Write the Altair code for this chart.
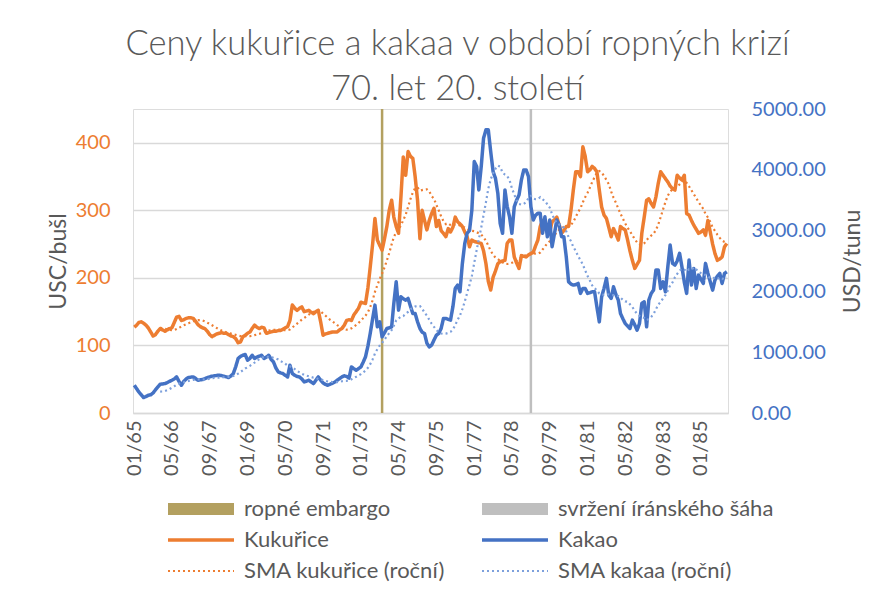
import altair as alt
import pandas as pd

# ---------------- data ----------------
months = pd.date_range("1965-01-01", periods=252, freq="MS")

corn = [
    127, 130, 134, 135, 133, 130, 126, 120, 114, 116, 121, 125,
    123, 121, 123, 125, 126, 134, 142, 143, 137, 138, 140, 141,
    141, 140, 136, 131, 128, 126, 125, 121, 116, 113, 115, 117,
    118, 119, 118, 118, 116, 114, 113, 110, 104, 105, 113, 115,
    118, 120, 125, 130, 127, 125, 127, 126, 118, 119, 120, 121,
    121, 122, 122, 124, 126, 128, 137, 160, 155, 152, 155, 157,
    150, 151, 152, 149, 147, 150, 152, 135, 115, 117, 118, 119,
    120, 120, 120, 123, 125, 130, 137, 138, 137, 145, 150, 155,
    164, 163, 162, 185, 216, 250, 288, 256, 248, 241, 258, 276,
    300, 315, 290, 276, 266, 320, 379, 352, 387, 380, 377, 350,
    315, 258, 300, 285, 271, 285, 295, 303, 276, 285, 270, 266,
    261, 273, 268, 275, 290, 283, 280, 276, 268, 261, 246, 256,
    254, 253, 252, 251, 240, 221, 195, 182, 201, 210, 221, 224,
    225, 226, 251, 256, 256, 231, 222, 214, 233, 232, 231, 234,
    236, 238, 247, 256, 276, 285, 276, 272, 268, 283, 286, 290,
    278, 266, 270, 276, 276, 300, 330, 357, 357, 350, 394, 380,
    357, 360, 365, 362, 357, 330, 305, 293, 288, 275, 261, 273,
    265, 256, 276, 273, 271, 256, 240, 226, 214, 220, 226, 266,
    290, 315, 317, 310, 305, 320, 340, 357, 352, 347, 342, 336,
    332, 330, 352, 348, 345, 352, 295, 293, 285, 278, 272, 266,
    268, 271, 263, 285, 268, 250, 236, 226, 228, 231, 246, 251,
]

cocoa = [
    457, 400, 346, 300, 254, 270, 292, 300, 330, 380, 428, 473,
    478, 484, 500, 520, 539, 560, 593, 520, 456, 520, 560, 583,
    590, 593, 570, 539, 545, 550, 565, 583, 595, 605, 612, 618,
    621, 615, 605, 595, 583, 610, 649, 760, 896, 930, 950, 962,
    868, 900, 950, 896, 920, 935, 950, 896, 920, 950, 880, 840,
    740, 676, 660, 649, 620, 593, 786, 649, 620, 600, 593, 560,
    511, 525, 539, 510, 484, 540, 593, 540, 495, 470, 456, 473,
    490, 510, 539, 566, 593, 612, 600, 575, 758, 730, 703, 730,
    758, 840, 923, 1100, 1308, 1550, 1774, 1417, 1500, 1252, 1320, 1390,
    1400, 1417, 1800, 2158, 1692, 1911, 1880, 1856, 1884, 1760, 1637, 1637,
    1500, 1390, 1330, 1308, 1150, 1087, 1115, 1200, 1280, 1308, 1390, 1555,
    1555, 1540, 1527, 1750, 2049, 2104, 1994, 2461, 2790, 2955, 3000, 3334,
    4135, 4053, 3669, 4053, 4520, 4657, 4657, 4300, 3970, 3862, 3614, 3120,
    2955, 3669, 3400, 3229, 2955, 3394, 3500, 3586, 3834, 3998, 3998, 3888,
    3394, 3174, 3250, 3285, 3285, 2955, 3229, 2900, 3174, 2735, 2950, 3174,
    3092, 2900, 2900, 2570, 2158, 2120, 2104, 2110, 2131, 1967, 2049, 2049,
    1967, 1980, 1994, 1994, 1746, 1499, 1911, 2050, 2214, 1939, 1884, 2076,
    1950, 1856, 1637, 1550, 1472, 1430, 1390, 1527, 1450, 1362, 1472, 1802,
    1829, 1417, 1856, 1967, 2021, 2351, 2351, 2049, 2158, 1994, 2400, 2763,
    2461, 2433, 2500, 2625, 2406, 2150, 1967, 2515, 2104, 2378, 2049, 2268,
    2200, 2131, 2461, 2300, 2158, 2021, 2186, 2250, 2296, 2131, 2296, 2323,
]

event_names = ["ropné embargo", "svržení íránského šáha"]
event_dates = ["1973-10-01", "1979-01-01"]

# legend order (filled column by column: left column first, then right column)
series_names = ["ropné embargo", "Kukuřice", "SMA kukuřice (roční)",
                "svržení íránského šáha", "Kakao", "SMA kakaa (roční)"]
series_colors = ["#B3A060", "#ED7D31", "#ED7D31", "#BFBFBF", "#4472C4", "#7DA0DC"]
series_widths = [12, 3.5, 2.2, 12, 3.5, 2.2]
series_dashes = [[1, 0], [1, 0], [2, 3], [1, 0], [1, 0], [2, 3]]

tick_dates = pd.date_range("1965-01-01", periods=16, freq="16MS")

# ---------------- frames ----------------
df_corn = pd.DataFrame({"date": months, "value": corn})
df_cocoa = pd.DataFrame({"date": months, "value": cocoa})
df_events = pd.DataFrame({"date": pd.to_datetime(event_dates), "series": event_names})

TXT = "#595959"
FONT = "Lato"

legend = alt.Legend(
    title=None, orient="none", legendX=29, legendY=388, columns=2,
    symbolType="stroke", symbolSize=4356, clipHeight=24, labelFontSize=22,
    labelFont=FONT, labelColor=TXT, labelOffset=4, rowPadding=7,
    columnPadding=30, padding=0, labelLimit=400,
)

color_enc = alt.Color("series:N", scale=alt.Scale(domain=series_names, range=series_colors), legend=legend)
dash_enc = alt.StrokeDash("series:N", scale=alt.Scale(domain=series_names, range=series_dashes), legend=legend)
width_enc = alt.StrokeWidth("series:N", scale=alt.Scale(type="ordinal", domain=series_names, range=series_widths), legend=legend)

x_enc = alt.X(
    "date:T",
    scale=alt.Scale(domain=[alt.DateTime(year=1964, month=12, date=16),
                            alt.DateTime(year=1985, month=12, date=16)]),
    axis=alt.Axis(
        title=None,
        values=[alt.DateTime(year=int(d.year), month=int(d.month), date=1) for d in tick_dates],
        format="%m/%y", labelAngle=-90, labelFontSize=20, labelColor=TXT,
        labelPadding=7, ticks=False, tickSize=0, grid=False,
        domainColor="#D9D9D9", domainWidth=1.5, labelFont=FONT,
    ),
)

left_scale = alt.Scale(domain=[0, 450], nice=False)
right_scale = alt.Scale(domain=[0, 5000], nice=False)

left_axis = alt.Axis(
    title="USC/bušl", values=[0, 100, 200, 300, 400], labelColor="#ED7D31",
    labelFontSize=20, labelFont=FONT, labelPadding=23, ticks=False, tickSize=0,
    domain=False, grid=True, gridColor="#D9D9D9", gridWidth=1.5,
    titleColor=TXT, titleFontSize=23, titleFontWeight="normal", titleFont=FONT,
    titleX=-63, titleY=152, titleAngle=270, titleBaseline="bottom",
)
right_axis = alt.Axis(
    title="USD/tunu", orient="right", values=[0, 1000, 2000, 3000, 4000, 5000],
    format=".2f", labelColor="#4472C4", labelFontSize=20, labelFont=FONT,
    labelPadding=23, ticks=False, tickSize=0, domain=False, grid=False,
    titleColor=TXT, titleFontSize=23, titleFontWeight="normal", titleFont=FONT,
    titleX=113, titleY=152, titleAngle=270, titleBaseline="top",
)

rules = alt.Chart(df_events).mark_rule(strokeWidth=2.5).encode(
    x=x_enc, color=color_enc, strokeDash=dash_enc
)

corn_line = alt.Chart(df_corn).transform_calculate(series="'Kukuřice'").mark_line(
    strokeJoin="round"
).encode(
    x=x_enc, y=alt.Y("value:Q", scale=left_scale, axis=left_axis),
    color=color_enc, strokeDash=dash_enc, strokeWidth=width_enc,
)
corn_sma = alt.Chart(df_corn).transform_window(
    sma="mean(value)", n="count()", frame=[-11, 0], sort=[{"field": "date"}]
).transform_filter("datum.n == 12").transform_calculate(
    series="'SMA kukuřice (roční)'"
).mark_line().encode(
    x=x_enc, y=alt.Y("sma:Q", scale=left_scale, axis=left_axis),
    color=color_enc, strokeDash=dash_enc, strokeWidth=width_enc,
)

cocoa_line = alt.Chart(df_cocoa).transform_calculate(series="'Kakao'").mark_line(
    strokeJoin="round"
).encode(
    x=x_enc, y=alt.Y("value:Q", scale=right_scale, axis=right_axis),
    color=color_enc, strokeDash=dash_enc, strokeWidth=width_enc,
)
cocoa_sma = alt.Chart(df_cocoa).transform_window(
    sma="mean(value)", n="count()", frame=[-11, 0], sort=[{"field": "date"}]
).transform_filter("datum.n == 12").transform_calculate(
    series="'SMA kakaa (roční)'"
).mark_line().encode(
    x=x_enc, y=alt.Y("sma:Q", scale=right_scale, axis=right_axis),
    color=color_enc, strokeDash=dash_enc, strokeWidth=width_enc,
)

left = alt.layer(corn_line, corn_sma)
right = alt.layer(cocoa_line, cocoa_sma)

chart = alt.layer(rules, left, right).resolve_scale(y="independent").properties(
    width=595, height=304,
    autosize=alt.AutoSizeParams(type="none"),
    padding={"left": 125, "top": 101, "right": 144, "bottom": 179},
    title=alt.TitleParams(
        text=["Ceny kukuřice a kakaa v období ropných krizí", "70. let 20. století"],
        fontSize=34.5, font=FONT, fontWeight=300, color=TXT, lineHeight=45,
        anchor="middle", dx=27, offset=-8,
    ),
).configure_view(stroke="transparent").configure(background="white")

chart.save("out.html", embed_options={"renderer": "svg", "actions": False})
